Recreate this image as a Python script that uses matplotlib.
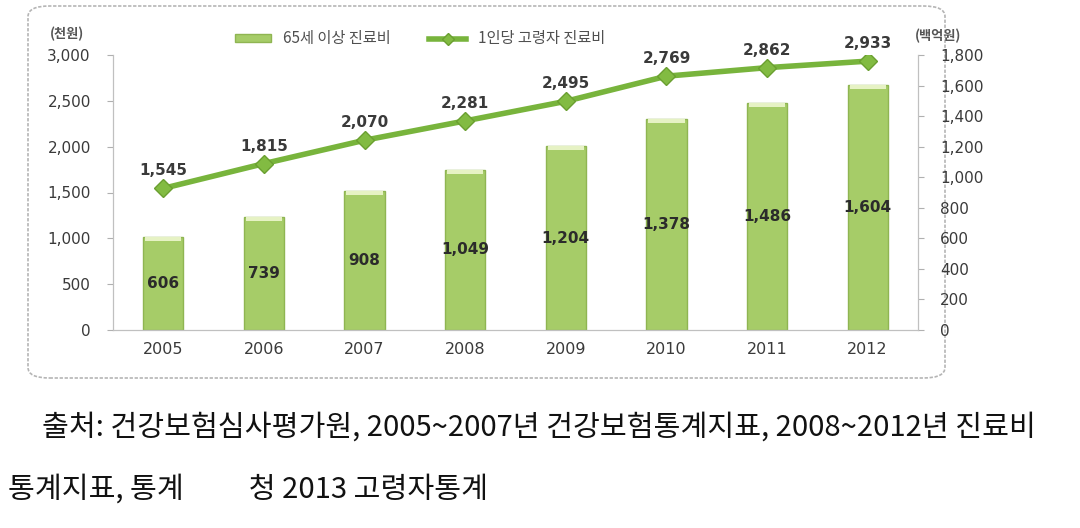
import matplotlib.pyplot as plt
from matplotlib.patches import FancyBboxPatch

plt.rcParams["font.family"] = ["Noto Sans CJK KR", "DejaVu Sans"]

years = ["2005", "2006", "2007", "2008", "2009", "2010", "2011", "2012"]
total_cost = [606, 739, 908, 1049, 1204, 1378, 1486, 1604]  # 백억원, bars (right axis)
per_capita = [1545, 1815, 2070, 2281, 2495, 2769, 2862, 2933]  # 천원, line (left axis)
left_ticks = [0, 500, 1000, 1500, 2000, 2500, 3000]
right_ticks = [0, 200, 400, 600, 800, 1000, 1200, 1400, 1600, 1800]

bar_color = "#a6cc68"
line_color = "#78b43c"
text_color = "#3a3a3a"

fig = plt.figure(figsize=(10.8, 5.28), dpi=100)

# chart frame
frame = FancyBboxPatch((28 / 1080, 1 - 378 / 528), (945 - 28) / 1080, (378 - 6) / 528,
                       boxstyle="round,pad=0,rounding_size=0.02", transform=fig.transFigure,
                       facecolor="none", edgecolor="#b5b5b5", linewidth=1.2,
                       linestyle=(0, (2, 1)), zorder=-1)
fig.patches.append(frame)

ax = fig.add_axes([113 / 1080, 1 - 330 / 528, (918 - 113) / 1080, (330 - 55) / 528])
ax2 = ax.twinx()
x = list(range(len(years)))

# bars on the right axis (백억원)
bars = ax2.bar(x, total_cost, width=0.4, color=bar_color, edgecolor="#8fb552", linewidth=1.0, zorder=2)
# lighter cap on top of each bar
ax2.bar(x, [25] * len(x), bottom=[v - 25 for v in total_cost], width=0.36,
        color="#e6f2c4", linewidth=0, zorder=2.5)
for xi, v in zip(x, total_cost):
    ax2.text(xi, v / 2, f"{v:,}", ha="center", va="center", fontsize=11,
             fontweight="bold", color="#2b2b2b", family="DejaVu Sans", zorder=3)
ax2.set_ylim(0, 1800)
ax2.set_yticks(right_ticks)
ax2.set_yticklabels([f"{t:,}" for t in right_ticks], fontsize=11, color=text_color, family="DejaVu Sans")

# line on the left axis (천원), drawn above the bars
ax.set_zorder(ax2.get_zorder() + 1)
ax.patch.set_visible(False)
line, = ax.plot(x, per_capita, color=line_color, linewidth=4, marker="D", markersize=9,
                markerfacecolor="#82bb42", markeredgecolor="#6a9f30", zorder=5)
for xi, v in zip(x, per_capita):
    ax.text(xi, v + 110, f"{v:,}", ha="center", va="bottom", fontsize=11,
            fontweight="bold", color=text_color, family="DejaVu Sans")
ax.set_ylim(0, 3000)
ax.set_xlim(-0.5, len(years) - 0.5)
ax.set_yticks(left_ticks)
ax.set_yticklabels([f"{t:,}" for t in left_ticks], fontsize=11, color=text_color, family="DejaVu Sans")
ax.set_xticks(x)
ax.set_xticklabels(years, fontsize=11.5, color=text_color, family="DejaVu Sans")
ax.tick_params(axis="x", length=0, pad=9)
ax.tick_params(axis="y", length=4, color="#b0b0b0", pad=12)
ax2.tick_params(axis="y", length=4, color="#b0b0b0", pad=12)

for a in (ax, ax2):
    a.spines["top"].set_visible(False)
    for side in ("left", "right", "bottom"):
        a.spines[side].set_color("#c0c0c0")
    a.spines["left"].set_linestyle((0, (2, 1)))
    a.spines["right"].set_linestyle((0, (2, 1)))

# unit labels
fig.text(67 / 1080, 1 - 34 / 528, "(천원)", ha="center", va="center", fontsize=9.5,
         fontweight="bold", color="#555555")
fig.text(938 / 1080, 1 - 36 / 528, "(백억원)", ha="center", va="center", fontsize=9.5,
         fontweight="bold", color="#555555")

# legend
fig.legend([bars[0], line], ["65세 이상 진료비", "1인당 고령자 진료비"], loc="center",
           bbox_to_anchor=(420 / 1080, 1 - 39 / 528), ncol=2, frameon=False,
           fontsize=11, handlelength=2.4, handleheight=0.4, columnspacing=2.5,
           labelcolor="#505050", markerscale=0.7)

# source note
fig.text(42 / 1080, 1 - 428 / 528,
         "출처: 건강보험심사평가원, 2005~2007년 건강보험통계지표, 2008~2012년 진료비",
         ha="left", va="center", fontsize=21, color="#111111")
fig.text(8 / 1080, 1 - 490 / 528, "통계지표, 통계          청 2013 고령자통계",
         ha="left", va="center", fontsize=21, color="#111111")

fig.savefig("out.png", dpi=100)
